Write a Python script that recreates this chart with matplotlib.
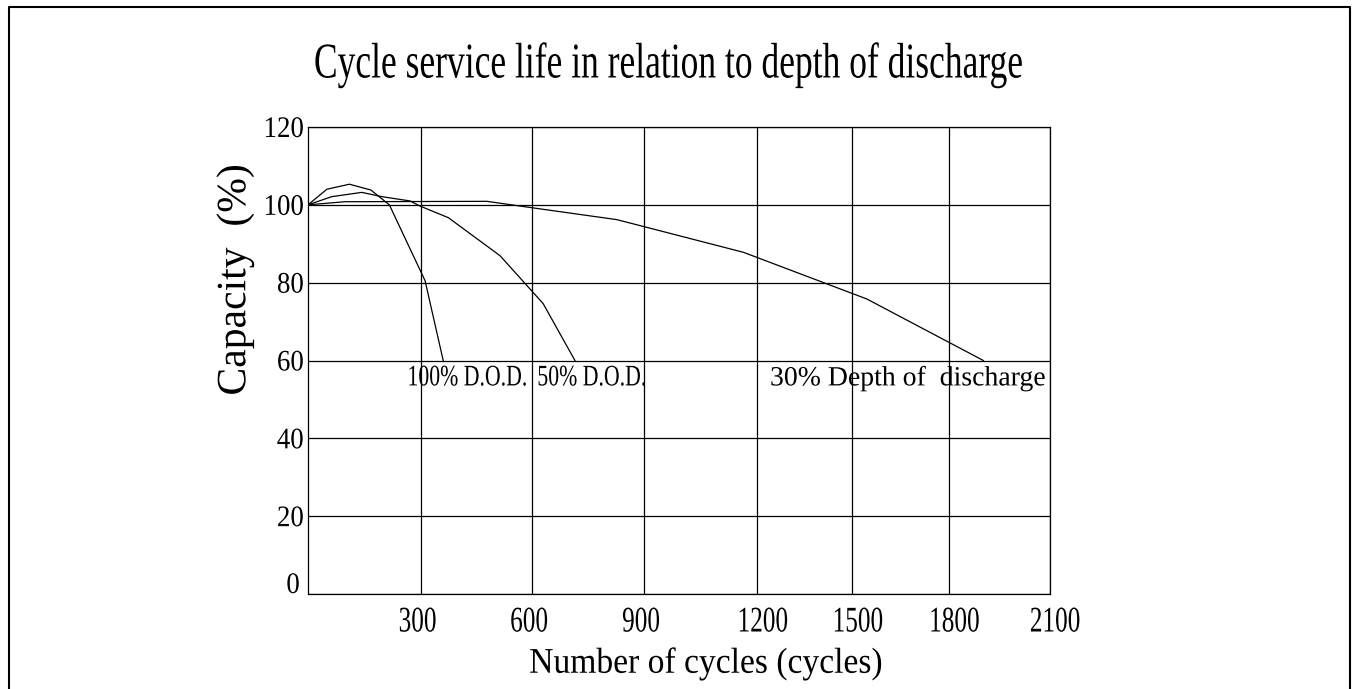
import numpy as np
import matplotlib
matplotlib.use('Agg')
import matplotlib.pyplot as plt
from matplotlib.patheffects import AbstractPathEffect
from matplotlib.transforms import Affine2D
from matplotlib.lines import Line2D

# values: cycles vs capacity (%)
dod100_cycles = [0, 50, 110, 167, 216, 311, 360]
dod100_capacity = [100, 104.0, 105.3, 103.8, 100, 80.5, 60]

dod50_cycles = [0, 63, 143, 196, 271, 297, 374, 514, 630, 715]
dod50_capacity = [100, 102.1, 103.2, 102.1, 101.0, 99.7, 96.7, 86.9, 74.6, 60]

dod30_cycles = [0, 98, 478, 604, 827, 916, 1164, 1546, 1902]
dod30_capacity = [100, 100.8, 100.9, 99.2, 96.2, 94.0, 87.8, 75.8, 60]

x_ticks = [0, 300, 600, 900, 1200, 1500, 1800, 2100]
y_ticks = [0, 20, 40, 60, 80, 100, 120]

# the original grid columns are not evenly spaced (pixel widths of each 300 cycles)
col_px = [0, 113, 224, 336, 449, 544, 641, 742]
# small horizontal nudges of the x tick labels in the original (pixels)
xlab_shift = [-3.5, -3, -3, 5.5, 5.5, 5, 5]

W, H = 1357, 689
SERIF = 'Liberation Serif'


class Squeeze(AbstractPathEffect):
    """draw text narrower (the original uses a condensed Times)"""
    def __init__(self, sx=0.75, anchor='center'):
        super().__init__()
        self.sx = sx
        self.anchor = anchor

    def draw_path(self, renderer, gc, tpath, affine, rgbFace=None):
        ext = tpath.get_extents()
        if self.anchor == 'left':
            x0 = ext.x0
        elif self.anchor == 'right':
            x0 = ext.x1
        else:
            x0 = (ext.x0 + ext.x1) / 2
        t = Affine2D().translate(-x0, 0).scale(self.sx, 1).translate(x0, 0) + affine
        renderer.draw_path(gc, tpath, t, rgbFace)


def fwd(x):
    return np.interp(x, x_ticks, col_px)


def inv(p):
    return np.interp(p, col_px, x_ticks)


fig = plt.figure(figsize=(W / 100, H / 100), dpi=100)
ax = fig.add_axes([308 / W, 1 - 594 / H, 742 / W, 467 / H])

ax.plot(dod100_cycles, dod100_capacity, color='black', lw=0.9)
ax.plot(dod50_cycles, dod50_capacity, color='black', lw=0.9)
ax.plot(dod30_cycles, dod30_capacity, color='black', lw=0.9)

ax.set_xscale('function', functions=(fwd, inv))
ax.set_xlim(0, 2100)
ax.set_ylim(0, 120)
ax.set_xticks(x_ticks[1:])
ax.set_yticks(y_ticks)
ax.grid(True, color='black', lw=0.9)
ax.tick_params(length=0)
ax.tick_params(axis='x', pad=9)
ax.tick_params(axis='y', pad=3)
for s in ax.spines.values():
    s.set_color('black')
    s.set_linewidth(0.9)

for lab, dx in zip(ax.get_xticklabels(), xlab_shift):
    lab.set_fontfamily(SERIF)
    lab.set_fontsize(26)
    lab.set_path_effects([Squeeze(0.7, 'center')])
    lab.set_transform(lab.get_transform() + Affine2D().translate(dx, 0))
for lab in ax.get_yticklabels():
    lab.set_fontfamily(SERIF)
    lab.set_fontsize(21.5)
    lab.set_path_effects([Squeeze(0.9, 'right')])
# the "0" sits a little higher and further left in the original
zero = ax.get_yticklabels()[0]
zero.set_transform(zero.get_transform() + Affine2D().translate(-4, 11))

# curve labels
ax.text(inv(528 - 308), 53.6, '100% D.O.D.', fontfamily=SERIF, fontsize=21.5,
        ha='right', va='baseline', path_effects=[Squeeze(0.73, 'right')])
ax.text(613, 53.6, '50% D.O.D.', fontfamily=SERIF, fontsize=21.5,
        ha='left', va='baseline', path_effects=[Squeeze(0.73, 'left')])
ax.text(1241, 53.6, '30% Depth of  discharge', fontfamily=SERIF, fontsize=20,
        ha='left', va='baseline', path_effects=[Squeeze(1.0, 'left')])

fig.text(668 / W, 1 - 65 / H, 'Cycle service life in relation to depth of discharge',
         fontfamily=SERIF, fontsize=36, ha='center', va='center',
         path_effects=[Squeeze(0.71, 'center')])
fig.text(706 / W, 1 - 664 / H, 'Number of cycles (cycles)',
         fontfamily=SERIF, fontsize=26, ha='center', va='center',
         path_effects=[Squeeze(0.93, 'center')])
fig.text(235 / W, 1 - 280 / H, 'Capacity  (%)', rotation=90,
         fontfamily=SERIF, fontsize=30, ha='center', va='center',
         path_effects=[Squeeze(1.0, 'center')])

# outer frame (open at the bottom)
fig.add_artist(Line2D([9 / W, 9 / W, 1350 / W, 1350 / W], [0, 1 - 7 / H, 1 - 7 / H, 0],
                      transform=fig.transFigure, color='black', lw=1.5))

fig.savefig('out.png', dpi=100)
